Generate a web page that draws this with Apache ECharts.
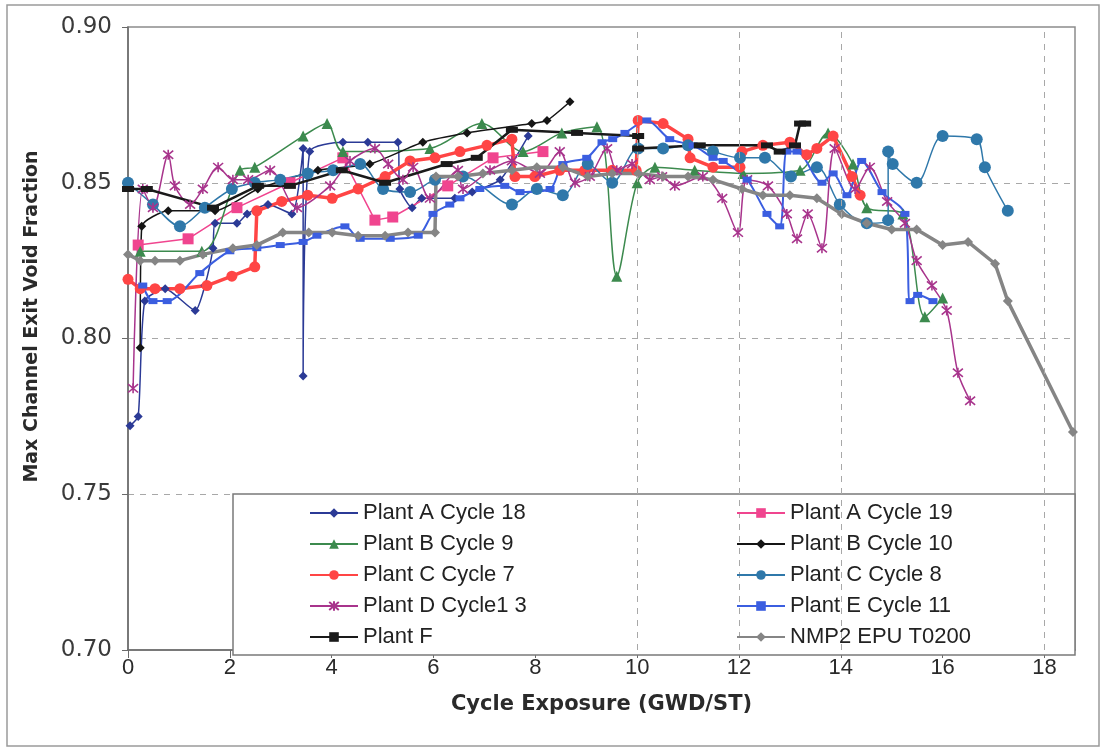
<!DOCTYPE html>
<html>
<head>
<meta charset="utf-8">
<script src="https://cdn.jsdelivr.net/npm/echarts@6/dist/echarts.min.js"></script>
<style>
  html, body { margin: 0; padding: 0; background: #ffffff; }
  #chart { width: 1101px; height: 751px; }
</style>
</head>
<body>
<div id="chart"></div>
<script>
// Cycle exposure (GWD/ST) vs. maximum channel exit void fraction, one array per plant/cycle.
const plantA18 = [[0.04,0.772],[0.20,0.775],[0.33,0.812],[0.73,0.816],[1.32,0.809],[1.51,0.817],[1.67,0.829],[1.71,0.837],[2.14,0.837],[2.34,0.840],[2.75,0.843],[3.22,0.840],[3.44,0.861],[3.44,0.788],[3.57,0.860],[4.22,0.863],[4.71,0.863],[5.30,0.863],[5.34,0.848],[5.58,0.842],[5.77,0.845],[6.42,0.845],[6.76,0.847],[7.31,0.851],[7.86,0.865]];
const plantA19 = [[0.20,0.830],[1.18,0.832],[2.14,0.842],[3.18,0.850],[4.22,0.858],[4.85,0.838],[5.20,0.839],[6.28,0.849],[7.17,0.858],[8.15,0.860]];
const plantB9 = [[0.24,0.828],[1.45,0.828],[2.20,0.854],[2.49,0.855],[3.44,0.865],[3.91,0.869],[4.22,0.860],[5.93,0.861],[6.95,0.869],[7.76,0.860],[8.52,0.866],[9.21,0.868],[9.60,0.820],[10.0,0.850],[10.35,0.855],[11.13,0.854],[12.08,0.853],[13.20,0.854],[13.75,0.866],[14.24,0.856],[14.51,0.842],[15.22,0.840],[15.65,0.807],[16.0,0.813]];
const plantB10 = [[0.24,0.797],[0.27,0.836],[0.79,0.841],[1.71,0.841],[2.55,0.848],[3.73,0.854],[4.75,0.856],[5.79,0.863],[6.66,0.866],[7.93,0.869],[8.23,0.870],[8.68,0.876]];
const plantC7 = [[0,0.819],[0.24,0.816],[0.53,0.816],[1.02,0.816],[1.55,0.817],[2.04,0.820],[2.49,0.823],[2.53,0.841],[3.02,0.844],[3.53,0.846],[4.01,0.845],[4.52,0.848],[5.05,0.852],[5.54,0.857],[6.03,0.858],[6.52,0.860],[7.05,0.862],[7.54,0.864],[7.60,0.852],[7.99,0.852],[8.48,0.854],[8.97,0.854],[9.51,0.854],[9.98,0.854],[10.02,0.870],[10.51,0.869],[11.0,0.864],[11.04,0.858],[11.49,0.855],[12.02,0.855],[12.06,0.860],[12.47,0.862],[13.0,0.863],[13.33,0.859],[13.53,0.861],[13.85,0.865],[14.22,0.852],[14.38,0.846]];
const plantC8 = [[0,0.850],[0.49,0.843],[1.02,0.836],[1.51,0.842],[2.04,0.848],[2.49,0.850],[2.99,0.851],[3.53,0.853],[4.03,0.854],[4.56,0.856],[5.01,0.848],[5.54,0.847],[6.03,0.851],[6.58,0.852],[7.54,0.843],[8.03,0.848],[8.54,0.846],[9.03,0.856],[9.51,0.850],[10.02,0.861],[10.51,0.861],[11.0,0.862],[11.49,0.860],[12.02,0.858],[12.51,0.858],[13.02,0.852],[13.53,0.855],[13.98,0.843],[14.51,0.837],[14.93,0.838],[14.93,0.860],[15.02,0.856],[15.49,0.850],[16.0,0.865],[16.67,0.864],[16.83,0.855],[17.28,0.841]];
const plantD13 = [[0.10,0.784],[0.29,0.848],[0.49,0.842],[0.79,0.859],[0.92,0.849],[1.22,0.843],[1.47,0.848],[1.77,0.855],[2.06,0.851],[2.36,0.851],[2.79,0.854],[3.32,0.842],[3.97,0.849],[4.36,0.857],[4.85,0.861],[5.11,0.856],[5.40,0.851],[5.60,0.855],[5.93,0.845],[6.48,0.854],[6.58,0.848],[7.11,0.854],[7.54,0.857],[8.09,0.853],[8.48,0.860],[8.78,0.850],[9.07,0.852],[9.41,0.861],[9.60,0.854],[9.90,0.856],[10.25,0.851],[10.49,0.852],[10.74,0.849],[11.29,0.852],[11.67,0.845],[11.98,0.834],[12.16,0.851],[12.57,0.849],[12.94,0.840],[13.14,0.832],[13.35,0.840],[13.63,0.829],[13.88,0.861],[14.28,0.848],[14.57,0.855],[14.91,0.844],[15.26,0.837],[15.49,0.825],[15.79,0.817],[16.08,0.809],[16.30,0.789],[16.54,0.780]];
const plantE11 = [[0.29,0.817],[0.49,0.812],[0.77,0.812],[1.41,0.821],[2.00,0.828],[2.53,0.829],[2.99,0.830],[3.44,0.831],[3.71,0.833],[4.26,0.836],[4.56,0.832],[5.15,0.832],[5.70,0.833],[5.99,0.840],[6.32,0.843],[6.52,0.845],[6.91,0.848],[7.40,0.849],[7.70,0.847],[8.29,0.848],[8.54,0.856],[9.01,0.858],[9.31,0.863],[9.52,0.864],[9.76,0.866],[10.19,0.870],[10.64,0.864],[11.10,0.862],[11.49,0.858],[11.69,0.857],[12.16,0.851],[12.55,0.840],[12.80,0.836],[12.94,0.860],[13.14,0.860],[13.63,0.850],[13.85,0.853],[14.12,0.846],[14.41,0.857],[14.81,0.847],[15.26,0.840],[15.36,0.812],[15.51,0.814],[15.81,0.812]];
const plantF = [[0,0.848],[0.37,0.848],[1.67,0.842],[2.55,0.849],[3.18,0.849],[4.20,0.854],[5.05,0.850],[6.26,0.856],[6.85,0.858],[7.54,0.867],[8.82,0.866],[10.02,0.865],[10.02,0.861],[11.23,0.862],[12.55,0.862],[12.80,0.860],[13.10,0.862],[13.20,0.869],[13.30,0.869]];
const nmp2 = [[0,0.827],[0.24,0.825],[0.53,0.825],[1.02,0.825],[1.47,0.827],[2.06,0.829],[2.53,0.830],[3.04,0.834],[3.55,0.834],[4.01,0.834],[4.52,0.833],[5.05,0.833],[5.50,0.834],[6.03,0.834],[6.05,0.852],[6.48,0.852],[6.97,0.853],[7.54,0.854],[8.03,0.855],[8.54,0.855],[9.03,0.852],[9.51,0.853],[10.02,0.853],[10.51,0.852],[11.0,0.852],[11.49,0.851],[12.06,0.848],[12.47,0.846],[13.0,0.846],[13.53,0.845],[14.02,0.840],[14.51,0.837],[15.0,0.835],[15.49,0.835],[16.0,0.830],[16.5,0.831],[17.03,0.824],[17.28,0.812],[18.56,0.770]];

// Legend names, split into the two legend columns.
const legendLeft = ['Plant A Cycle 18', 'Plant B Cycle 9', 'Plant C Cycle 7', 'Plant D Cycle1 3', 'Plant F'];
const legendRight = ['Plant A Cycle 19', 'Plant B Cycle 10', 'Plant C Cycle 8', 'Plant E Cycle 11', 'NMP2 EPU T0200'];

// Vertical dashed guide positions on the exposure axis.
const verticalGuides = [10, 12, 14, 18];

const asterisk = 'path://M0,0L10,10M10,0L0,10M5,-1L5,11';

function lineSeries(name, data, color, symbol, size, width, smooth, extra) {
  return Object.assign({
    name: name,
    type: 'line',
    data: data,
    symbol: symbol,
    symbolSize: size,
    smooth: smooth,
    showAllSymbol: true,
    lineStyle: { color: color, width: width },
    itemStyle: { color: color },
    emphasis: { disabled: true }
  }, extra || {});
}

const chart = echarts.init(document.getElementById('chart'));
const font = "'Liberation Sans', Arial, sans-serif";
const legendText = { fontFamily: font, fontSize: 22, color: '#222' };

chart.setOption({
  backgroundColor: '#ffffff',
  animation: false,
  grid: {
    left: 128, top: 27, right: 26, bottom: 101,
    show: true, borderColor: '#8c8c8c', borderWidth: 1.5, backgroundColor: '#ffffff'
  },
  xAxis: {
    type: 'value', min: 0, max: 18.6, interval: 2,
    name: 'Cycle Exposure (GWD/ST)', nameLocation: 'middle', nameGap: 44,
    nameTextStyle: { fontFamily: "'DejaVu Sans', sans-serif", fontWeight: 'bold', fontSize: 21, color: '#2a2a2a' },
    axisLine: { show: true, onZero: false, lineStyle: { color: '#6a6a6a', width: 1.5 } },
    axisTick: { show: true, length: 8, lineStyle: { color: '#6a6a6a' } },
    axisLabel: {
      margin: 7, fontFamily: "'Liberation Sans Narrow', 'Liberation Sans', sans-serif", fontSize: 22, color: '#2a2a2a',
      showMaxLabel: false,
      formatter: function (v) { return Math.abs(v % 2) < 1e-6 ? String(v) : ''; }
    },
    splitLine: { show: false }
  },
  yAxis: {
    type: 'value', min: 0.70, max: 0.90, interval: 0.05,
    name: 'Max Channel Exit Void Fraction', nameLocation: 'middle', nameGap: 86,
    nameTextStyle: { fontFamily: "'DejaVu Sans', sans-serif", fontWeight: 'bold', fontSize: 19, color: '#2a2a2a', padding: [0, 0, 0, 44] },
    axisLine: { show: true, lineStyle: { color: '#6a6a6a', width: 1.5 } },
    axisTick: { show: true, length: 6, lineStyle: { color: '#6a6a6a' } },
    axisLabel: {
      margin: 16, fontFamily: "'DejaVu Sans', sans-serif", fontSize: 23, color: '#3a3a3a',
      formatter: function (v) { return v.toFixed(2); }
    },
    splitLine: { show: true, lineStyle: { color: '#a8a8a8', type: [6, 6], width: 1 } }
  },
  legend: [
    {
      data: legendLeft, orient: 'vertical', left: 304, top: 497,
      itemWidth: 48, itemHeight: 12, itemGap: 9, z: 10,
      textStyle: legendText
    },
    {
      data: legendRight, orient: 'vertical', left: 731, top: 497,
      itemWidth: 48, itemHeight: 12, itemGap: 9, z: 10,
      textStyle: legendText
    }
  ],
  graphic: [
    {
      type: 'rect', z: 0, silent: true,
      shape: { x: 7, y: 5, width: 1092, height: 741 },
      style: { fill: 'none', stroke: '#9a9a9a', lineWidth: 1.5 }
    },
    {
      type: 'rect', z: 5, silent: true,
      shape: { x: 233, y: 494, width: 842, height: 161 },
      style: { fill: '#ffffff', stroke: '#7a7a7a', lineWidth: 1.5 }
    }
  ],
  series: [
    {
      name: 'guides', type: 'line', data: [], z: 1, silent: true,
      markLine: {
        silent: true, symbol: ['none', 'none'], label: { show: false },
        lineStyle: { color: '#a8a8a8', type: [6, 6], width: 1 },
        data: verticalGuides.map(function (v) { return { xAxis: v }; })
      }
    },
    lineSeries('Plant A Cycle 18', plantA18, '#2b3a96', 'diamond', 9, 1.5, 0.2),
    lineSeries('Plant A Cycle 19', plantA19, '#f0458f', 'rect', 11, 1.5, false),
    lineSeries('Plant B Cycle 9', plantB9, '#3c8a4e', 'triangle', 11, 1.5, 0.3),
    lineSeries('Plant B Cycle 10', plantB10, '#151515', 'diamond', 9, 1.5, 0.2),
    lineSeries('Plant C Cycle 7', plantC7, '#ff4545', 'circle', 11, 3.5, false),
    lineSeries('Plant C Cycle 8', plantC8, '#2f78aa', 'circle', 12, 1.5, 0.3),
    lineSeries('Plant D Cycle1 3', plantD13, '#a8348c', asterisk, 10, 1.5, 0.3, {
      itemStyle: { color: 'rgba(0,0,0,0)', borderColor: '#a8348c', borderWidth: 1.6 }
    }),
    lineSeries('Plant E Cycle 11', plantE11, '#3b5ee0', 'rect', [9, 6], 2, 0.3),
    lineSeries('Plant F', plantF, '#1a1a1a', 'rect', [12, 6], 2.5, false),
    lineSeries('NMP2 EPU T0200', nmp2, '#858585', 'diamond', 10, 3.5, false)
  ]
});
</script>
</body>
</html>
